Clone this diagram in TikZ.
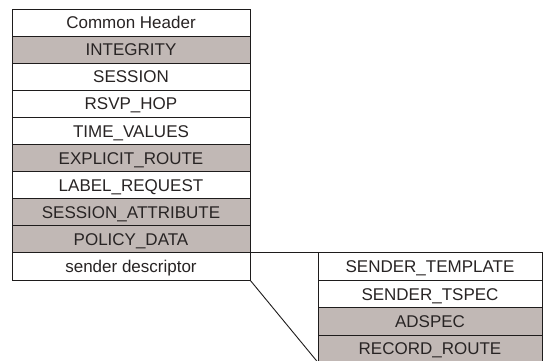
\documentclass[tikz,border=0pt]{standalone}
\usepackage{fontspec}
\setmainfont{Liberation Sans}
\usepackage{tikz}
\usetikzlibrary{positioning}
\usepackage{xcolor}
\definecolor{objgray}{RGB}{193,184,181}
\definecolor{objtext}{RGB}{40,36,36}
\definecolor{objline}{RGB}{30,28,28}
\tikzstyle{obj} = [rectangle, draw=objline, line width=0.9pt, minimum width=238pt, minimum height=27.1pt, inner sep=0pt, outer sep=0pt, text height=12.2pt, text depth=0pt, font=\fontsize{17}{20}\selectfont, text=objtext, fill=white]
\tikzstyle{objg} = [obj, fill=objgray]
\tikzstyle{sub} = [obj, minimum width=224pt, minimum height=27.4pt]
\tikzstyle{subg} = [sub, fill=objgray]
\tikzstyle{link} = [line width=0.9pt, draw=objline]

\begin{document}
\begin{tikzpicture}[x=1pt, y=1pt, node distance=0pt]
\useasboundingbox (0,0) rectangle (544,-360);
% path message objects
\node (header) [obj, anchor=north west] at (12,-9) {Common Header};
\node (integrity) [objg, below=of header] {INTEGRITY};
\node (session) [obj, below=of integrity] {SESSION};
\node (hop) [obj, below=of session] {RSVP\_HOP};
\node (timevals) [obj, below=of hop] {TIME\_VALUES};
\node (ero) [objg, below=of timevals] {EXPLICIT\_ROUTE};
\node (labelreq) [obj, below=of ero] {LABEL\_REQUEST};
\node (sessattr) [objg, below=of labelreq] {SESSION\_ATTRIBUTE};
\node (policy) [objg, below=of sessattr] {POLICY\_DATA};
\node (sender) [obj, below=of policy] {sender descriptor};

% sender descriptor contents
\node (template) [sub, below right=0pt and 68pt of sender.north east] {SENDER\_TEMPLATE};
\node (tspec) [sub, below=of template] {SENDER\_TSPEC};
\node (adspec) [subg, below=of tspec] {ADSPEC};
\node (rro) [subg, below=of adspec] {RECORD\_ROUTE};

\draw[link] (sender.north east) -- (template.north west);
\draw[link] (sender.south east) -- (rro.south west);
\end{tikzpicture}
\end{document}
